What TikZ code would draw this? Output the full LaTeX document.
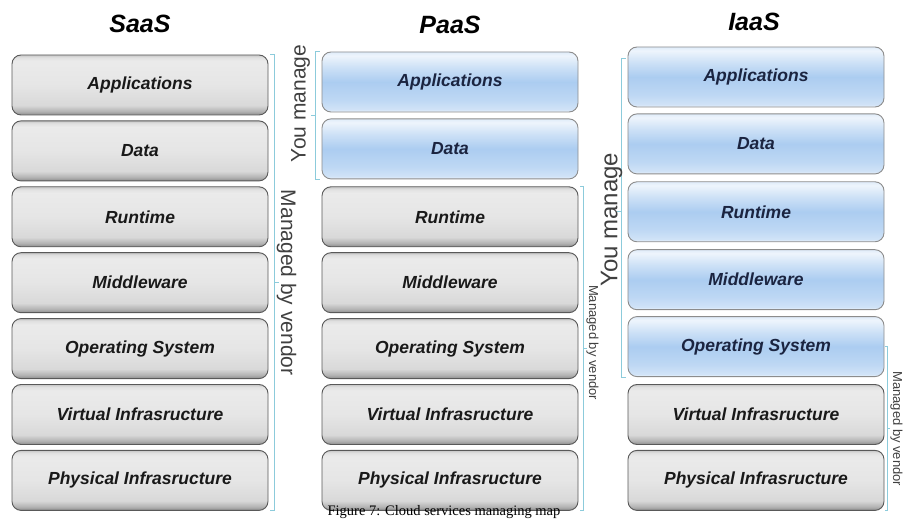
\documentclass[tikz,border=0pt]{standalone}
\usepackage{fontspec}
\setmainfont{Liberation Sans}
\newfontfamily\capfont{Liberation Serif}
\usetikzlibrary{positioning,calc}

\definecolor{sky}{HTML}{6FA8E6}
\definecolor{bracketblue}{HTML}{8CCBDB}
\definecolor{navy}{HTML}{1B2440}

\pgfdeclareverticalshading{greylayer}{100bp}{color(0bp)=(black!45); color(25bp)=(black!45);
  color(28bp)=(black!30); color(33bp)=(black!15); color(50bp)=(black!10);
  color(70bp)=(black!8); color(73bp)=(black!12); color(75bp)=(black!22); color(100bp)=(black!22)}
\pgfdeclareverticalshading{bluelayer}{100bp}{color(0bp)=(sky!10); color(25bp)=(sky!10);
  color(27bp)=(sky!32); color(35bp)=(sky!45); color(50bp)=(sky!58);
  color(62bp)=(sky!35); color(72bp)=(sky!12); color(75bp)=(sky!22); color(100bp)=(sky!22)}

\begin{document}
\begin{tikzpicture}[x=1pt,y=-1pt,node distance=5pt,
  layer/.style={draw=black!65,line width=0.9pt,rounded corners=9pt,shading=greylayer,
    minimum width=256pt,minimum height=60pt,text=black!90,
    font=\fontsize{17.5}{20}\selectfont\bfseries\itshape},
  mine/.style={layer,draw=black!45,shading=bluelayer,text=navy},
  title/.style={font=\fontsize{25}{28}\selectfont\bfseries\itshape},
  brace/.style={draw=bracketblue,line width=0.9pt},
  side/.style={text=black!75,inner sep=0pt}]
  \useasboundingbox (0,0) rectangle (903,521);

  \node[title] (saas) at (140,24) {SaaS};
  \node[title] (paas) at (450,25) {PaaS};
  \node[title] (iaas) at (754,22) {IaaS};

  % SaaS stack
  \node[layer] (s1) at (140,85) {Applications};
  \node[layer] (s2) [below=of s1] {Data};
  \node[layer] (s3) [below=of s2] {Runtime};
  \node[layer] (s4) [below=of s3] {Middleware};
  \node[layer] (s5) [below=of s4] {Operating System};
  \node[layer] (s6) [below=of s5] {Virtual Infrasructure};
  \node[layer] (s7) [below=of s6] {Physical Infrasructure};

  % PaaS stack
  \node[mine]  (p1) at (450,82) {Applications};
  \node[mine]  (p2) [below=6pt of p1] {Data};
  \node[layer] (p3) [below=7pt of p2] {Runtime};
  \node[layer] (p4) [below=of p3] {Middleware};
  \node[layer] (p5) [below=of p4] {Operating System};
  \node[layer] (p6) [below=of p5] {Virtual Infrasructure};
  \node[layer] (p7) [below=of p6] {Physical Infrasructure};

  % IaaS stack
  \node[mine]  (i1) at (756,77) {Applications};
  \node[mine]  (i2) [below=6pt of i1] {Data};
  \node[mine]  (i3) [below=7pt of i2] {Runtime};
  \node[mine]  (i4) [below=7pt of i3] {Middleware};
  \node[mine]  (i5) [below=6pt of i4] {Operating System};
  \node[layer] (i6) [below=7pt of i5] {Virtual Infrasructure};
  \node[layer] (i7) [below=of i6] {Physical Infrasructure};

  % brackets
  \coordinate (smid) at ($(s1.north east)!.5!(s7.south east)$);
  \draw[brace] ([xshift=2pt]s1.north east) -- ++(4,0) |- ([xshift=2pt]s7.south east)
    ([xshift=6pt]smid) -- ++(5,0);
  \node[side,rotate=-90,font=\fontsize{21}{22}\selectfont] (svendor) at ([xshift=18pt]smid) {Managed by vendor};

  \coordinate (pmine) at ($(p1.north west)!.5!(p2.south west)$);
  \draw[brace] ([xshift=-2pt]p1.north west) -- ++(-4,0) |- ([xshift=-2pt]p2.south west)
    ([xshift=-6pt]pmine) -- ++(-5,0);
  \node[side,rotate=90,font=\fontsize{21}{22}\selectfont] (pyou) at ([xshift=-21pt,yshift=12pt]pmine) {You manage};

  \coordinate (pmid) at ($(p3.north east)!.5!(p7.south east)$);
  \draw[brace] ([xshift=2pt]p3.north east) -- ++(3,0) |- ([xshift=2pt]p7.south east)
    ([xshift=5pt]pmid) -- ++(4,0);
  \node[side,rotate=-90,font=\fontsize{13}{14}\selectfont] (pvendor) at ([xshift=14pt,yshift=6pt]pmid) {Managed by vendor};

  \coordinate (imine) at ($(i1.north west)!.5!(i5.south west)$);
  \draw[brace] ([xshift=-2pt,yshift=-12pt]i1.north west) -- ++(-4,0) |- ([xshift=-2pt]i5.south west)
    ([xshift=-6pt]imine) -- ++(-5,0);
  \node[side,rotate=90,font=\fontsize{24}{26}\selectfont] (iyou) at ([xshift=-16pt,yshift=-8pt]imine) {You manage};

  \coordinate (imid) at ($(i5.east)!.5!(i7.south east)$);
  \draw[brace] ([xshift=1pt]i5.east) -- ++(2,0) |- ([xshift=1pt]i7.south east)
    ([xshift=3pt]imid) -- ++(3,0);
  \node[side,rotate=-90,font=\fontsize{13}{14}\selectfont] (ivendor) at ([xshift=12pt]imid) {Managed by vendor};

  \node[font=\capfont\fontsize{14.5}{16}\selectfont] (caption) at (444,512) {Figure 7: Cloud services managing map};
\end{tikzpicture}
\end{document}
